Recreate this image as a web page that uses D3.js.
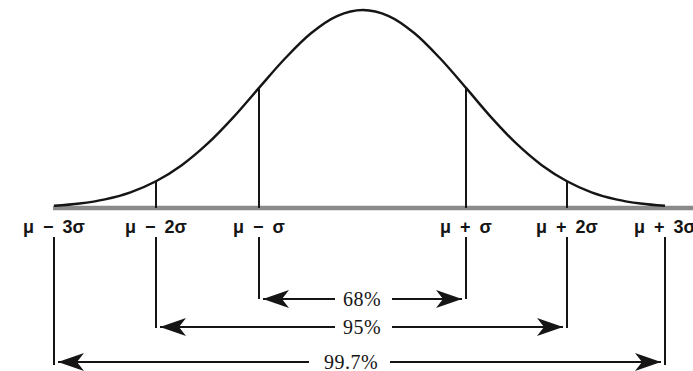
<!DOCTYPE html>
<html><head><meta charset="utf-8">
<script src="https://cdn.jsdelivr.net/npm/d3@7/dist/d3.min.js"></script>
<style>body{margin:0;background:#fff}svg{display:block}</style>
</head><body>
<svg id="c" width="693" height="371"></svg>
<script>
// Standard normal curve heights (in σ units) read as density values
const curveZ = [-3,-2.75,-2.5,-2.25,-2,-1.75,-1.5,-1.25,-1,-0.75,-0.5,-0.25,0,0.25,0.5,0.75,1,1.25,1.5,1.75,2,2.25,2.5,2.75,3];
const curveD = [0.0044,0.0091,0.0175,0.0317,0.0540,0.0863,0.1295,0.1826,0.2420,0.3011,0.3521,0.3867,0.3989,0.3867,0.3521,0.3011,0.2420,0.1826,0.1295,0.0863,0.0540,0.0317,0.0175,0.0091,0.0044];
const markZ = [-3,-2,-1,1,2,3];
const markLabels = ["μ − 3σ","μ − 2σ","μ − σ","μ + σ","μ + 2σ","μ + 3σ"];
const rangeK = [1,2,3];
const rangeLabels = ["68%","95%","99.7%"];

const svg = d3.select("#c");
const x = d3.scaleLinear().domain([-3,-2,-1,0,1,2,3]).range([54,156,259,363,466,567,665]);
const y = d3.scaleLinear().domain([0,0.3989]).range([208,10]);
const ink = "#151515";
const density = z => curveD[curveZ.indexOf(z)];

// baseline
svg.append("line").attr("x1",53).attr("x2",693).attr("y1",208).attr("y2",208)
  .attr("stroke","#8a8a8a").attr("stroke-width",4.5);

// curve
svg.append("path")
  .datum(curveZ.map((z,i)=>[z,curveD[i]]))
  .attr("d", d3.line().x(d=>x(d[0])).y(d=>y(d[1])).curve(d3.curveCatmullRom))
  .attr("fill","none").attr("stroke",ink).attr("stroke-width",2.4);

// arrow levels
const arrowY = {1:299, 2:327, 3:362};
const lineEnd = {1:299, 2:328, 3:365};

// vertical lines
markZ.forEach(z=>{
  const k = Math.abs(z);
  if (k < 3) {
    svg.append("line").attr("x1",x(z)).attr("x2",x(z)).attr("y1",y(density(z))).attr("y2",208)
      .attr("stroke",ink).attr("stroke-width",2);
  }
  svg.append("line").attr("x1",x(z)).attr("x2",x(z)).attr("y1",237).attr("y2",lineEnd[k])
    .attr("stroke",ink).attr("stroke-width",2);
});

// labels
svg.selectAll("text.m").data(markZ).join("text").attr("class","m")
  .attr("x",z=>x(z)).attr("y",233).attr("text-anchor","middle")
  .attr("font-family","Liberation Sans, Arial, sans-serif").attr("font-size",18)
  .attr("font-weight","bold").attr("word-spacing","4px")
  .attr("fill",ink)
  .text((z,i)=>markLabels[i]);

// arrowhead marker
const defs = svg.append("defs");
defs.append("marker").attr("id","ah").attr("viewBox","0 0 26 18").attr("refX",26).attr("refY",9)
  .attr("markerWidth",26).attr("markerHeight",18).attr("markerUnits","userSpaceOnUse").attr("orient","auto-start-reverse")
  .append("path").attr("d","M0,0 L26,9 L0,18 L7,9 Z").attr("fill",ink);

// range arrows with percent labels
rangeK.forEach((k,i)=>{
  const yy = arrowY[k];
  const cx = k===3 ? 351 : 362;
  const halfL = k===3 ? 42 : 27;
  const halfR = k===3 ? 39 : 30;
  svg.append("line").attr("x1",x(-k)+4).attr("x2",cx-halfL).attr("y1",yy).attr("y2",yy)
    .attr("stroke",ink).attr("stroke-width",2).attr("marker-start","url(#ah)");
  svg.append("line").attr("x1",cx+halfR).attr("x2",x(k)-4).attr("y1",yy).attr("y2",yy)
    .attr("stroke",ink).attr("stroke-width",2).attr("marker-end","url(#ah)");
  svg.append("text").attr("x",cx).attr("y",yy+7).attr("text-anchor","middle")
    .attr("font-family","Liberation Serif, Times New Roman, serif").attr("font-size",20)
    .attr("letter-spacing","0.5px")
    .attr("fill",ink).text(rangeLabels[i]);
});
</script>
</body></html>
